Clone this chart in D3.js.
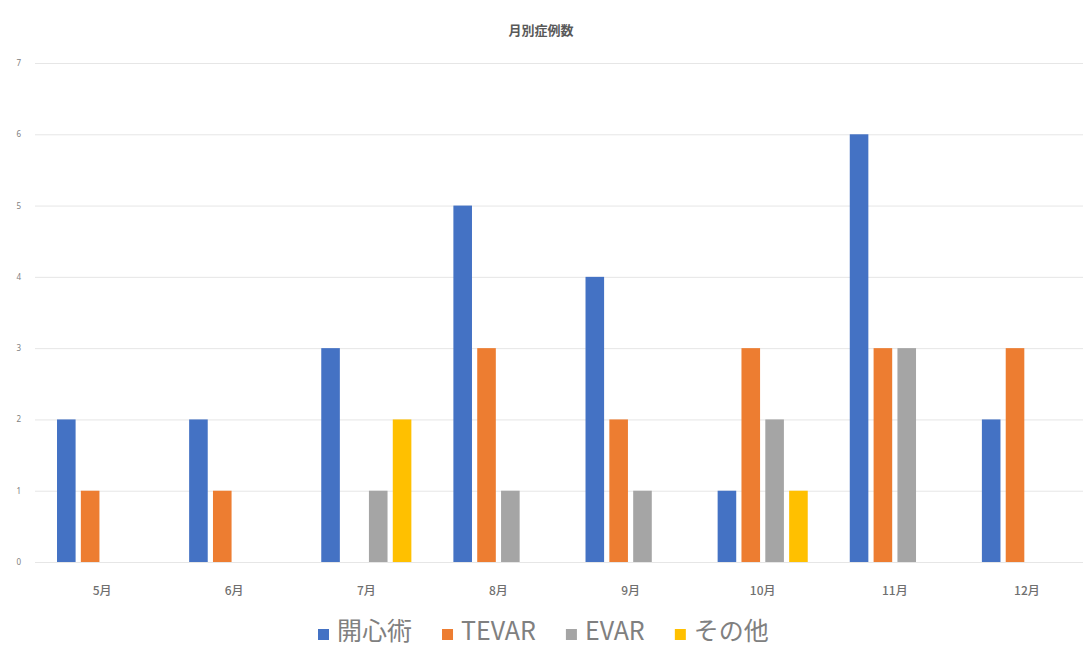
<!DOCTYPE html>
<html lang="ja">
<head>
<meta charset="utf-8">
<script src="https://cdn.jsdelivr.net/npm/d3@7/dist/d3.min.js"></script>
<style>
  html, body { margin: 0; padding: 0; background: #fff; }
  svg { display: block; font-family: "Noto Sans CJK JP", "Noto Sans", sans-serif; }
</style>
</head>
<body>
<svg id="chart" width="1083" height="648"></svg>
<script>
// Monthly case counts by procedure type
const months = ["5月", "6月", "7月", "8月", "9月", "10月", "11月", "12月"];
const seriesNames = ["開心術", "TEVAR", "EVAR", "その他"];
const openHeart = [2, 2, 3, 5, 4, 1, 6, 2];
const tevar = [1, 1, 0, 3, 2, 3, 3, 3];
const evar = [0, 0, 1, 1, 1, 2, 3, 0];
const other = [0, 0, 2, 0, 0, 1, 0, 0];
const yTicks = [0, 1, 2, 3, 4, 5, 6, 7];
const colors = ["#4472C4", "#ED7D31", "#A5A5A5", "#FFC000"];

const seriesValues = [openHeart, tevar, evar, other];
const rows = months.map((m, i) => ({
  month: m,
  values: seriesNames.map((s, k) => ({ key: s, value: seriesValues[k][i] }))
}));

const svg = d3.select("#chart");
const W = 1083, H = 648;
const plot = { left: 36, right: 1093, top: 63, bottom: 562 };

const x0 = d3.scaleBand().domain(months).range([plot.left, plot.right])
  .paddingInner(0.3).paddingOuter(0.15);
const x1 = d3.scaleBand().domain(seriesNames).range([0, x0.bandwidth()])
  .paddingInner(0.22).paddingOuter(0.05);
const y = d3.scaleLinear().domain([0, 7]).range([plot.bottom, plot.top]);
const color = d3.scaleOrdinal().domain(seriesNames).range(colors);

// Title
svg.append("text")
  .attr("x", 541).attr("y", 35)
  .attr("text-anchor", "middle")
  .attr("font-size", 13).attr("font-weight", "bold")
  .attr("fill", "#595959")
  .text("月別症例数");

// Gridlines and value axis
const yAxis = d3.axisLeft(y).tickValues(yTicks).tickSize(-(W - 35)).tickFormat(d3.format("d"));
const gy = svg.append("g").attr("transform", "translate(35,0)").call(yAxis);
gy.select(".domain").remove();
gy.selectAll(".tick line").attr("stroke", "#e6e6e6").attr("stroke-width", 1);
gy.selectAll(".tick text")
  .attr("x", -14).attr("fill", "#808080").attr("font-size", 8)
  .attr("font-family", "'Noto Sans', sans-serif");

// Category axis labels
const xAxis = d3.axisBottom(x0).tickSize(0).tickPadding(0);
const gx = svg.append("g").attr("transform", `translate(0,${plot.bottom + 24})`).call(xAxis);
gx.select(".domain").remove();
gx.selectAll(".tick text")
  .attr("fill", "#6f6f6f").attr("font-size", 12).attr("font-weight", 500)
  .attr("font-family", "'Noto Sans CJK JP', sans-serif");

// Bars
const groups = svg.append("g").selectAll("g").data(rows).join("g")
  .attr("transform", d => `translate(${x0(d.month)},0)`);
groups.selectAll("rect")
  .data(d => d.values.filter(v => v.value > 0))
  .join("rect")
  .attr("x", d => x1(d.key))
  .attr("y", d => y(d.value))
  .attr("width", x1.bandwidth())
  .attr("height", d => y(0) - y(d.value))
  .attr("fill", d => color(d.key));

// Legend
const legend = svg.append("g").attr("transform", "translate(0,640)");
const itemGap = 30, swatch = 11, swatchGap = 8;
const items = legend.selectAll("g").data(seriesNames).join("g");
items.append("rect")
  .attr("width", swatch).attr("height", swatch)
  .attr("y", -swatch)
  .attr("fill", d => color(d));
items.append("text")
  .attr("x", swatch + swatchGap)
  .attr("font-size", 25).attr("fill", "#808080")
  .attr("font-family", "'Noto Sans CJK JP', sans-serif")
  .text(d => d);
let widths = [];
items.each(function () { widths.push(this.getBBox().width); });
let cx = 318;
items.attr("transform", (d, i) => {
  const t = `translate(${cx},0)`;
  cx += widths[i] + itemGap;
  return t;
});
</script>
</body>
</html>
